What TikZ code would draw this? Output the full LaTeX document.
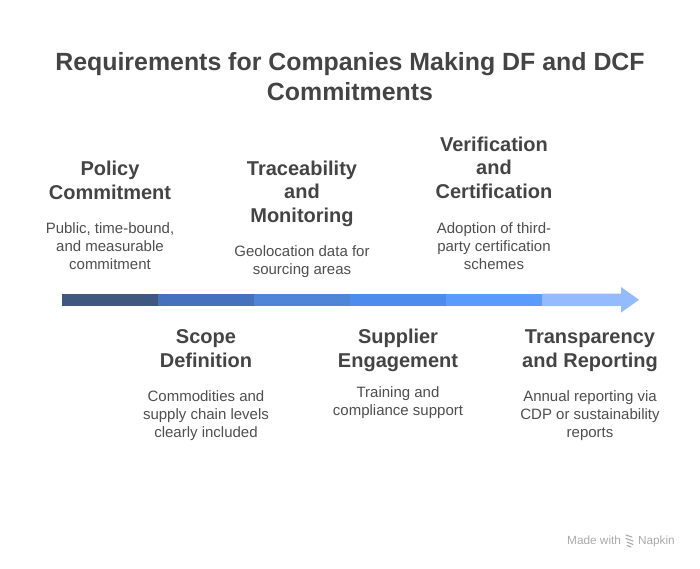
\documentclass[tikz,border=0pt]{standalone}
\usepackage{fontspec}
\setmainfont{Liberation Sans}
\usepackage{tikz}
\usetikzlibrary{positioning}
\usetikzlibrary{calc}

\definecolor{txtgray}{RGB}{68,68,68}
\definecolor{descgray}{RGB}{78,78,78}
\definecolor{markgray}{RGB}{170,170,170}
\definecolor{segA}{RGB}{62,88,128}
\definecolor{segB}{RGB}{69,113,189}
\definecolor{segC}{RGB}{80,132,214}
\definecolor{segD}{RGB}{79,139,236}
\definecolor{segE}{RGB}{91,155,253}
\definecolor{segF}{RGB}{148,187,253}

\tikzset{
  titletxt/.style={font=\bfseries\fontsize{24.9}{30}\selectfont, text=txtgray, align=center, anchor=base, inner sep=0},
  headtxt/.style={font=\bfseries\fontsize{20}{23.5}\selectfont, text=txtgray, align=center, anchor=base, inner sep=0},
  desctxt/.style={font=\fontsize{15}{18}\selectfont, text=descgray, align=center, anchor=base, inner sep=0},
  marktxt/.style={font=\fontsize{11.8}{13}\selectfont, text=markgray, anchor=base, inner sep=0}
}

\begin{document}
\begin{tikzpicture}[x=1pt, y=-1pt, auto,swap]
  \useasboundingbox (0,0) rectangle (700,568);

	\def\w{96};
	\def\xo{62};

	%title (base = last line)
	\node[titletxt] (title) at (350,100) {Requirements for Companies Making DF and DCF\\Commitments};

	%bar
 \def\yt{293.5};
 \def\yb{306};
    \foreach \i/\col/\name in {0/segA/b1,1/segB/b2,2/segC/b3,3/segD/b4,4/segE/b5}{
         \fill[\col] (\xo + \i*\w, \yt) rectangle (\xo + \i*\w + \w, \yb);
         \coordinate (\name) at (\xo + \i*\w + \w/2, \yt);
    }
    \fill[segF] (\xo + 5*\w, \yt) -- (621, \yt) -- (621, 287) -- (639, 299.8)
          -- (621, 312.6) -- (621, \yb) -- (\xo + 5*\w, \yb) -- cycle;
    \coordinate (b6) at (\xo + 5*\w + \w/2, \yt);

	%steps above the bar
    \foreach \i/\hy/\dy/\name/\head/\desc in {
         0/199/269.5/pol/{Policy\\Commitment}/{Public, time-bound,\\and measurable\\commitment},
         2/222/274/tra/{Traceability\\and\\Monitoring}/{Geolocation data for\\sourcing areas},
         4/198/269/ver/{Verification\\and\\Certification}/{Adoption of third-\\party certification\\schemes}}{
         \node[headtxt] (\name-h) at (\xo + \i*\w + \w/2, \hy) {\head};
         \node[desctxt] (\name-d) at (\xo + \i*\w + \w/2, \dy) {\desc};
    }

	%steps below the bar
    \foreach \i/\hy/\dy/\name/\head/\desc in {
         1/367/437.5/sco/{Scope\\Definition}/{Commodities and\\supply chain levels\\clearly included},
         3/367/415.5/sup/{Supplier\\Engagement}/{Training and\\compliance support},
         5/367/437.5/rep/{Transparency\\and Reporting}/{Annual reporting via\\CDP or sustainability\\reports}}{
         \node[headtxt] (\name-h) at (\xo + \i*\w + \w/2, \hy) {\head};
         \node[desctxt] (\name-d) at (\xo + \i*\w + \w/2, \dy) {\desc};
    }

	%made with
    \node[marktxt, anchor=base west] (made) at (567,544) {Made with};
    \node[marktxt, anchor=base east] (napkin) at (675,544) {Napkin};
    \draw[markgray, line width=1.1pt, line cap=round]
          (626,535) -- (632,537) (626,538.5) -- (633,541) (627,542) -- (633,544.5) (627,545.5) -- (631,547);

\end{tikzpicture}
\end{document}
